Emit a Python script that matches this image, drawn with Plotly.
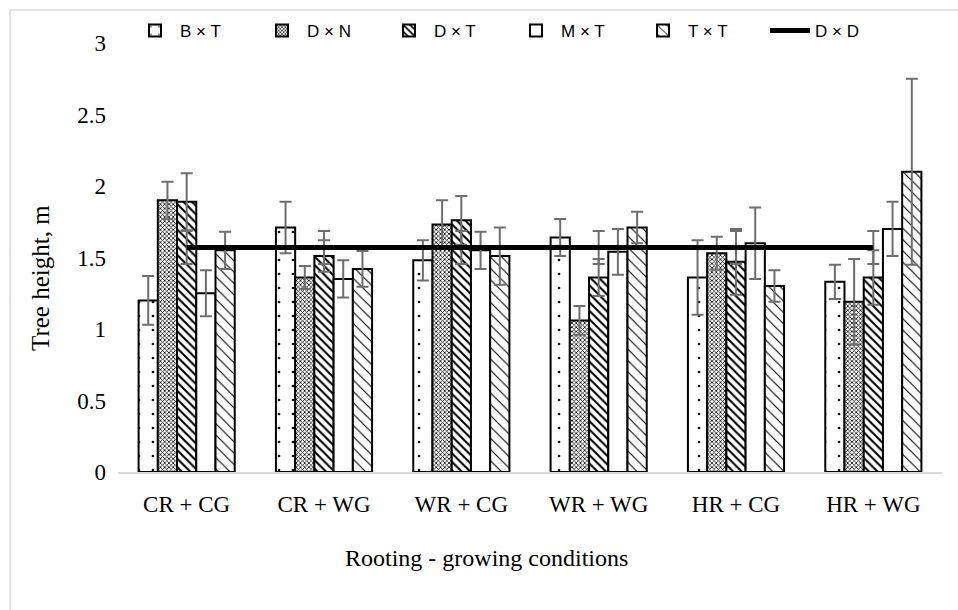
import plotly.graph_objects as go

categories = ["CR + CG", "CR + WG", "WR + CG", "WR + WG", "HR + CG", "HR + WG"]

bxt = [1.20, 1.71, 1.48, 1.64, 1.36, 1.33]
bxt_err = [0.17, 0.18, 0.14, 0.13, 0.26, 0.12]
dxn = [1.90, 1.36, 1.73, 1.06, 1.53, 1.19]
dxn_err = [0.13, 0.08, 0.17, 0.10, 0.115, 0.30]
dxt = [1.89, 1.51, 1.76, 1.36, 1.47, 1.36]
dxt_err = [0.20, 0.11, 0.17, 0.13, 0.23, 0.19]
mxt = [1.25, 1.35, 1.55, 1.54, 1.60, 1.70]
mxt_err = [0.16, 0.13, 0.13, 0.16, 0.25, 0.19]
txt = [1.55, 1.42, 1.51, 1.71, 1.30, 2.10]
txt_err = [0.13, 0.125, 0.20, 0.11, 0.11, 0.65]
dxd = [1.57, 1.57, 1.57, 1.57, 1.57, 1.57]
dxd_err = [0.115, 0.115, 0.115, 0.115, 0.115, 0.115]

y_ticks = [0, 0.5, 1, 1.5, 2, 2.5, 3]
y_tick_text = ["0", "0.5", "1", "1.5", "2", "2.5", "3"]

ERR = dict(type="data", thickness=2, width=6, color="#6e6e6e")

def bar(name, vals, errs, shape, size, solidity):
    pattern = dict(shape=shape, fgcolor="black", bgcolor="white",
                   size=size, solidity=solidity, fillmode="replace")
    return go.Bar(
        name=name, x=categories, y=vals,
        error_y=dict(array=errs, **ERR),
        marker=dict(color="white", line=dict(color="black", width=2),
                    pattern=pattern),
    )

fig = go.Figure()
fig.add_trace(bar("B × T", bxt, bxt_err, ".", 14, 0.03))
fig.add_trace(bar("D × N", dxn, dxn_err, "x", 3, 0.45))
fig.add_trace(bar("D × T", dxt, dxt_err, "\\", 6, 0.35))
fig.add_trace(bar("M × T", mxt, mxt_err, "", 8, 0.2))
fig.add_trace(bar("T × T", txt, txt_err, "\\", 8, 0.14))
fig.add_trace(go.Scatter(
    name="D × D", x=categories, y=dxd, mode="lines",
    line=dict(color="black", width=5),
    error_y=dict(array=dxd_err, **ERR),
))

# paper coordinate helpers
L, R, T, B = 118, 16, 43, 138
W, H = 958 - L - R, 610 - T - B
def px(x):
    return (x - L) / W
def py(y):
    return (610 - B - y) / H

fig.add_shape(type="line", xref="paper", yref="paper",
              x0=px(10), x1=px(958), y0=py(10), y1=py(10),
              line=dict(color="#d9d9d9", width=1.5))
fig.add_shape(type="line", xref="paper", yref="paper",
              x0=px(10), x1=px(10), y0=py(10), y1=py(610),
              line=dict(color="#d9d9d9", width=1.5))

fig.add_annotation(text="Rooting - growing conditions", xref="paper", yref="paper",
                   x=px(486), y=py(558), xanchor="center", yanchor="middle",
                   showarrow=False, font=dict(family="Liberation Serif", size=24))
fig.add_annotation(text="Tree height, m", xref="paper", yref="paper",
                   x=px(40), y=py(278), xanchor="center", yanchor="middle",
                   textangle=-90, showarrow=False,
                   font=dict(family="Liberation Serif", size=25))

fig.update_layout(
    width=958, height=610,
    margin=dict(l=L, r=R, t=T, b=B, autoexpand=False),
    paper_bgcolor="white", plot_bgcolor="white",
    barmode="group", bargap=0.3, bargroupgap=0,
    font=dict(family="Liberation Serif", size=23, color="black"),
    legend=dict(orientation="h", x=px(130), xanchor="left", y=py(31), yanchor="middle",
                font=dict(family="Liberation Sans", size=17, color="black"),
                itemwidth=40, entrywidth=72, entrywidthmode="pixels",
                bgcolor="rgba(0,0,0,0)", traceorder="normal"),
    showlegend=True,
)
fig.update_xaxes(
    showline=True, linecolor="#d9d9d9", linewidth=2,
    ticks="", showgrid=False, ticklabelstandoff=10,
)
fig.update_yaxes(
    range=[0, 3], tickvals=y_ticks, ticktext=y_tick_text,
    showline=False, showgrid=False, zeroline=False, ticks="",
    ticklabelstandoff=11,
)

fig.write_html("out.html", config={"displayModeBar": False},
               post_script="document.body.style.margin='0';document.body.style.overflow='hidden';")
